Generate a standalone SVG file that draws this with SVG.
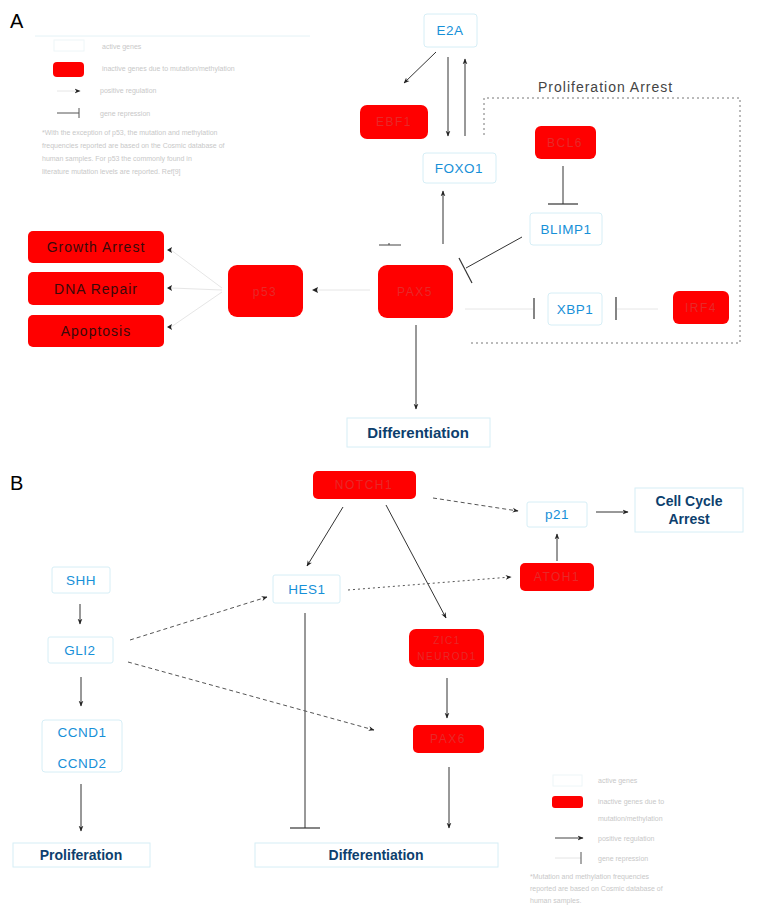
<svg xmlns="http://www.w3.org/2000/svg" width="764" height="924" viewBox="0 0 764 924">
  <style>
    .bg { fill: #ffffff; }
    .act rect { fill: #ffffff; stroke: #d6eef6; stroke-width: 1; }
    .act text { font-family: "Liberation Sans", Arial, sans-serif; font-size: 13.5px; fill: #1790d8; text-anchor: middle; letter-spacing: 0.5px; }
    .inact rect { fill: #ff0000; }
    .inact text { font-family: "Liberation Sans", Arial, sans-serif; font-size: 12px; fill: #e82828; text-anchor: middle; letter-spacing: 1.5px; }
    .outc rect { fill: #ff0000; }
    .outc text { font-family: "Liberation Sans", Arial, sans-serif; font-size: 14px; fill: #3a0a0a; text-anchor: middle; letter-spacing: 1px; }
    .res rect { fill: #ffffff; stroke: #d6eef6; stroke-width: 1; }
    .res text { font-family: "Liberation Sans", Arial, sans-serif; font-size: 14px; font-weight: bold; fill: #0d3f6e; text-anchor: middle; }
    .edge { stroke: #333333; stroke-width: 1; fill: none; }
    .faint { stroke: #e6e6e6; stroke-width: 1; fill: none; }
    .dash { stroke: #555555; stroke-width: 1; fill: none; stroke-dasharray: 4 3; }
    .dot { stroke: #555555; stroke-width: 1; fill: none; stroke-dasharray: 2 3; }
    .frame { stroke: #777777; stroke-width: 1; fill: none; stroke-dasharray: 2 3; }
    .bar { stroke: #333333; stroke-width: 1.2; }
    .panel { font-family: "Liberation Sans", Arial, sans-serif; font-size: 20px; fill: #000000; }
    .lg { font-family: "Liberation Sans", Arial, sans-serif; font-size: 7px; fill: #c8c8c8; }
    .title { font-family: "Liberation Sans", Arial, sans-serif; font-size: 14px; fill: #444444; letter-spacing: 1px; }
  </style>
  <defs>
    <marker id="ah" viewBox="0 0 10 10" refX="9" refY="5" markerWidth="6" markerHeight="6" orient="auto">
      <path d="M0,1 L10,5 L0,9 L3,5 Z" fill="#222222"/>
    </marker>
  </defs>
  <rect class="bg" x="0" y="0" width="764" height="924"/>

  <!-- panel letters -->
  <text class="panel" x="10" y="28">A</text>
  <text class="panel" x="10" y="490">B</text>

  <!-- legend, panel A -->
  <g id="legendA">
    <line x1="35" y1="36" x2="310" y2="36" stroke="#e4f2f6"/>
    <rect x="54" y="40" width="30" height="11" fill="#ffffff" stroke="#eef6f8"/>
    <text class="lg" x="102" y="49">active genes</text>
    <rect x="53" y="62" width="31" height="15" rx="4" fill="#ff0000"/>
    <text class="lg" x="102" y="71">inactive genes due to mutation/methylation</text>
    <line x1="57" y1="91" x2="80" y2="91" stroke="#e6e6e6" marker-end="url(#ah)"/>
    <text class="lg" x="100" y="93">positive regulation</text>
    <line x1="57" y1="113" x2="79" y2="113" stroke="#555555"/>
    <line x1="79" y1="108" x2="79" y2="118" stroke="#555555"/>
    <text class="lg" x="100" y="116">gene repression</text>
    <text class="lg" x="42" y="135">*With the exception of p53, the mutation and methylation</text>
    <text class="lg" x="42" y="148">frequencies reported are based on the Cosmic database of</text>
    <text class="lg" x="42" y="161">human samples. For p53 the commonly found in</text>
    <text class="lg" x="42" y="174">literature mutation levels are reported. Ref[9]</text>
  </g>

  <!-- proliferation arrest frame -->
  <g id="prolifArrest">
    <text class="title" x="538" y="92">Proliferation Arrest</text>
    <polyline class="frame" points="484,135 484,98 740,98 740,343 471,343"/>
  </g>

  <!-- connectors -->
  <g id="connectors">
    <!-- panel A -->
    <line class="edge" x1="436" y1="52" x2="404" y2="83" marker-end="url(#ah)"/>
    <line class="edge" x1="448" y1="57" x2="448" y2="136" marker-end="url(#ah)" stroke="#666"/>
    <line class="edge" x1="465" y1="136" x2="465" y2="59" marker-end="url(#ah)" stroke="#666"/>
    <line class="edge" x1="443" y1="244" x2="443" y2="191" marker-end="url(#ah)" stroke="#666"/>
    <line x1="379" y1="245" x2="401" y2="245" stroke="#444"/>
    <line x1="389" y1="243" x2="389" y2="245" stroke="#444"/>
    <line class="edge" x1="563" y1="166" x2="563" y2="204" stroke="#666"/>
    <line class="bar" x1="548" y1="204" x2="578" y2="204"/>
    <line class="edge" x1="522" y1="237" x2="466" y2="268"/>
    <line class="bar" x1="459" y1="258" x2="472" y2="283"/>
    <line class="faint" x1="465" y1="309" x2="533" y2="309"/>
    <line class="bar" x1="534" y1="298" x2="534" y2="319"/>
    <line class="faint" x1="658" y1="309" x2="617" y2="309"/>
    <line class="bar" x1="616" y1="297" x2="616" y2="320"/>
    <line class="faint" x1="370" y1="290" x2="316" y2="290"/>
    <path d="M312,290 L318,287 L317,290 L318,293 Z" fill="#222"/>
    <line class="faint" x1="222" y1="288" x2="171" y2="250" stroke="#f2f2f2"/>
    <line class="faint" x1="222" y1="290" x2="171" y2="288" stroke="#f2f2f2"/>
    <line class="faint" x1="222" y1="292" x2="171" y2="327" stroke="#f2f2f2"/>
    <path d="M167,250 L172,247 L171,250 L172,253 Z" fill="#222"/>
    <path d="M167,288 L172,285 L171,288 L172,291 Z" fill="#222"/>
    <path d="M167,327 L172,324 L171,327 L172,330 Z" fill="#222"/>
    <line class="edge" x1="416" y1="325" x2="416" y2="409" marker-end="url(#ah)" stroke="#666"/>

    <!-- panel B -->
    <line class="dash" x1="433" y1="498" x2="518" y2="511" marker-end="url(#ah)"/>
    <line class="edge" x1="596" y1="512" x2="628" y2="512" marker-end="url(#ah)"/>
    <line class="edge" x1="557" y1="561" x2="557" y2="534" marker-end="url(#ah)"/>
    <line class="edge" x1="343" y1="507" x2="307" y2="566" marker-end="url(#ah)"/>
    <line class="edge" x1="386" y1="505" x2="446" y2="618" marker-end="url(#ah)"/>
    <line class="dot" x1="348" y1="590" x2="511" y2="577" marker-end="url(#ah)"/>
    <line class="edge" x1="447" y1="678" x2="447" y2="718" marker-end="url(#ah)"/>
    <line class="edge" x1="449" y1="767" x2="449" y2="828" marker-end="url(#ah)"/>
    <line class="edge" x1="305" y1="613" x2="305" y2="828"/>
    <line class="bar" x1="290" y1="828" x2="320" y2="828"/>
    <line class="edge" x1="80" y1="604" x2="80" y2="624" marker-end="url(#ah)" stroke="#666"/>
    <line class="edge" x1="81" y1="677" x2="81" y2="706" marker-end="url(#ah)" stroke="#aaa"/>
    <line class="edge" x1="81" y1="784" x2="81" y2="831" marker-end="url(#ah)" stroke="#aaa"/>
    <line class="dash" x1="130" y1="640" x2="267" y2="597" marker-end="url(#ah)"/>
    <line class="dash" x1="128" y1="662" x2="374" y2="730" marker-end="url(#ah)"/>
  </g>

  <!-- panel A nodes -->
  <g id="E2A" class="act"><rect x="424" y="14" width="53" height="33" rx="3"/><text x="450" y="35">E2A</text></g>
  <g id="EBF1" class="inact"><rect x="360" y="105" width="68" height="34" rx="7"/><text x="394" y="126">EBF1</text></g>
  <g id="FOXO1" class="act"><rect x="423" y="153" width="73" height="30" rx="3"/><text x="459" y="173">FOXO1</text></g>
  <g id="BCL6" class="inact"><rect x="535" y="126" width="61" height="33" rx="6"/><text x="565" y="147">BCL6</text></g>
  <g id="BLIMP1" class="act"><rect x="530" y="213" width="72" height="32" rx="3"/><text x="566" y="234">BLIMP1</text></g>
  <g id="PAX5" class="inact"><rect x="378" y="265" width="75" height="53" rx="9"/><text x="415" y="296">PAX5</text></g>
  <g id="p53" class="inact"><rect x="228" y="265" width="75" height="52" rx="9"/><text x="265" y="296">p53</text></g>
  <g id="XBP1" class="act"><rect x="548" y="293" width="54" height="32" rx="3"/><text x="575" y="314">XBP1</text></g>
  <g id="IRF4" class="inact"><rect x="673" y="291" width="56" height="33" rx="6"/><text x="701" y="312">IRF4</text></g>
  <g id="growthArrest" class="outc"><rect x="28" y="231" width="136" height="32" rx="5"/><text x="96" y="252">Growth Arrest</text></g>
  <g id="dnaRepair" class="outc"><rect x="28" y="272" width="136" height="33" rx="5"/><text x="96" y="294">DNA Repair</text></g>
  <g id="apoptosis" class="outc"><rect x="28" y="315" width="136" height="32" rx="5"/><text x="96" y="336">Apoptosis</text></g>
  <g id="differentiationA" class="res"><rect x="347" y="418" width="143" height="29"/><text x="418" y="438" style="font-size:15px">Differentiation</text></g>

  <!-- panel B nodes -->
  <g id="NOTCH1" class="inact"><rect x="313" y="471" width="103" height="28" rx="5"/><text x="364" y="489">NOTCH1</text></g>
  <g id="p21" class="act"><rect x="527" y="502" width="60" height="25" rx="2"/><text x="557" y="519">p21</text></g>
  <g id="cellCycleArrest" class="res"><rect x="635" y="488" width="108" height="44"/><text x="689" y="506">Cell Cycle</text><text x="689" y="524">Arrest</text></g>
  <g id="ATOH1" class="inact"><rect x="520" y="563" width="74" height="28" rx="5"/><text x="557" y="581">ATOH1</text></g>
  <g id="HES1" class="act"><rect x="273" y="575" width="67" height="28" rx="2"/><text x="307" y="594">HES1</text></g>
  <g id="ZIC" class="inact"><rect x="409" y="629" width="75" height="38" rx="7"/><text x="447" y="644" style="font-size:10px">ZIC1</text><text x="447" y="660" style="font-size:10px">NEUROD1</text></g>
  <g id="PAX6" class="inact"><rect x="413" y="725" width="71" height="28" rx="5"/><text x="448" y="743">PAX6</text></g>
  <g id="differentiationB" class="res"><rect x="255" y="843" width="243" height="24"/><text x="376" y="860">Differentiation</text></g>
  <g id="SHH" class="act"><rect x="52" y="567" width="58" height="26" rx="2"/><text x="81" y="585">SHH</text></g>
  <g id="GLI2" class="act"><rect x="48" y="637" width="65" height="26" rx="2"/><text x="80" y="655">GLI2</text></g>
  <g id="CCND" class="act"><rect x="42" y="720" width="80" height="52" rx="3"/><text x="82" y="737">CCND1</text><text x="82" y="768">CCND2</text></g>
  <g id="proliferation" class="res"><rect x="13" y="843" width="137" height="24"/><text x="81" y="860">Proliferation</text></g>

  <!-- legend, panel B -->
  <g id="legendB">
    <rect x="553" y="775" width="29" height="11" fill="#ffffff" stroke="#eef6f8"/>
    <text class="lg" x="598" y="783">active genes</text>
    <rect x="552" y="796" width="31" height="12" rx="3" fill="#ff0000"/>
    <text class="lg" x="598" y="804">inactive genes due to</text>
    <text class="lg" x="598" y="821">mutation/methylation</text>
    <line x1="555" y1="838" x2="583" y2="838" stroke="#444444" marker-end="url(#ah)"/>
    <text class="lg" x="598" y="841">positive regulation</text>
    <line x1="555" y1="858" x2="581" y2="858" stroke="#e4e4e4"/>
    <line x1="581" y1="852" x2="581" y2="864" stroke="#555555"/>
    <text class="lg" x="598" y="861">gene repression</text>
    <text class="lg" x="530" y="879">*Mutation and methylation frequencies</text>
    <text class="lg" x="530" y="891">reported are based on Cosmic database of</text>
    <text class="lg" x="530" y="903">human samples.</text>
  </g>
</svg>
